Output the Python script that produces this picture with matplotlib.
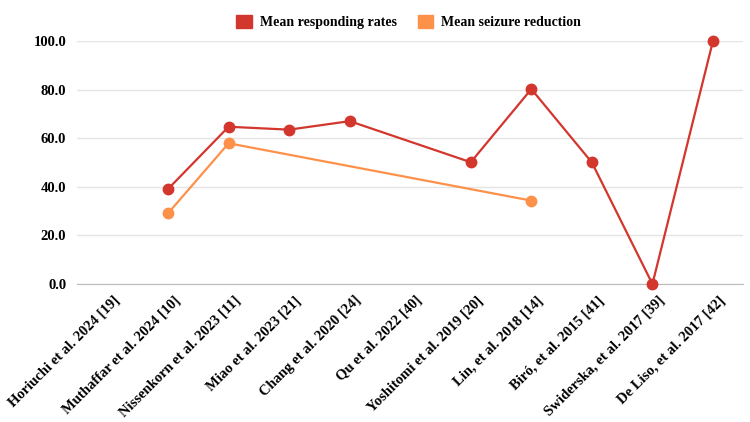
import numpy as np
import matplotlib.pyplot as plt
import matplotlib.transforms as mtransforms
from matplotlib.patches import Patch

plt.rcParams['font.family'] = ['Liberation Serif', 'DejaVu Serif']
plt.rcParams['font.weight'] = 'bold'

studies = ["Horiuchi et al. 2024 [19]", "Muthaffar et al. 2024 [10]",
           "Nissenkorn et al. 2023 [11]", "Miao et al. 2023 [21]",
           "Chang et al. 2020 [24]", "Qu et al. 2022 [40]",
           "Yoshitomi et al. 2019 [20]", "Lin, et al. 2018 [14]",
           "Biró, et al. 2015 [41]", "Swiderska, et al. 2017 [39]",
           "De Liso, et al. 2017 [42]"]
responding = [np.nan, 39.1, 64.7, 63.5, 67.0, np.nan, 50.1, 80.2, 50.0, 0.0, 100.0]
reduction = [np.nan, 29.1, 57.9, np.nan, np.nan, np.nan, np.nan, 34.3, np.nan, np.nan, np.nan]

red = '#d3362d'
orange = '#fe914a'

fig = plt.figure(figsize=(7.5, 4.22), dpi=100)
ax = fig.add_axes([0.103, 0.327, 0.888, 0.576])

x = np.arange(len(studies))
for vals, col in [(responding, red), (reduction, orange)]:
    v = np.array(vals)
    m = ~np.isnan(v)
    ax.plot(x[m], v[m], color=col, lw=1.6, marker='o', ms=7.5, clip_on=False, zorder=3)

ax.set_xlim(-0.5, len(studies) - 0.5)
ax.set_ylim(0, 100)
ax.set_yticks(np.arange(0, 101, 20))
ax.set_yticklabels([f"{t:.1f}" for t in range(0, 101, 20)], fontsize=10.5, fontweight='bold')
ax.set_xticks(x)
ax.set_xticklabels(studies, rotation=45, ha='right', rotation_mode='anchor',
                   fontsize=10.5, fontweight='bold')
ax.tick_params(axis='x', length=0, pad=7)
ax.tick_params(axis='y', length=0, pad=8)
shift = mtransforms.ScaledTranslation(5 / 100, 0, fig.dpi_scale_trans)
for lbl in ax.get_xticklabels():
    lbl.set_transform(lbl.get_transform() + shift)
ax.grid(axis='y', color='#e4e4e4', lw=1)
ax.set_axisbelow(True)
for s in ['top', 'right', 'left']:
    ax.spines[s].set_visible(False)
ax.spines['bottom'].set_color('#bbbbbb')

handles = [Patch(color=red, label='Mean responding rates'),
           Patch(color=orange, label='Mean seizure reduction')]
fig.legend(handles=handles, loc='upper center', bbox_to_anchor=(0.545, 0.995), ncol=2,
           frameon=False, handlelength=1.1, handleheight=1.1,
           columnspacing=1.5, handletextpad=0.6, prop={'weight': 'bold', 'size': 10})

fig.savefig('out.png', dpi=100)
